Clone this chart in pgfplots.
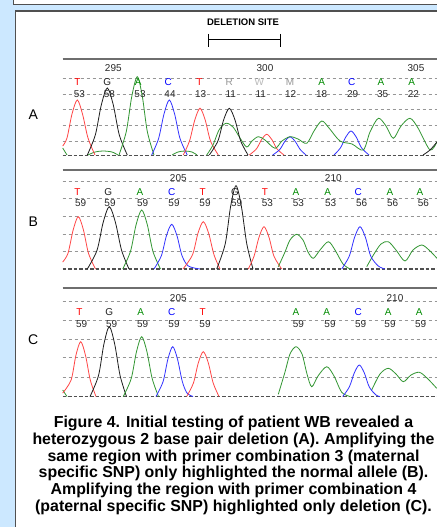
\documentclass[border=0pt]{standalone}
\usepackage{pgfplots}
\pgfplotsset{compat=1.18}
\usepackage{fontspec}
\setmainfont{Liberation Sans}
\definecolor{bgblue}{RGB}{204,232,255}
\definecolor{frame}{RGB}{80,80,80}
\definecolor{gridc}{RGB}{150,150,150}
\definecolor{basec}{RGB}{80,80,80}
\definecolor{topc}{RGB}{110,110,110}
\definecolor{tred}{RGB}{255,70,70}
\definecolor{tblk}{RGB}{30,30,30}
\definecolor{tgrn}{RGB}{50,150,50}
\definecolor{tblu}{RGB}{50,50,255}
\definecolor{lred}{RGB}{255,0,0}
\definecolor{lgrn}{RGB}{0,140,0}
\definecolor{lblu}{RGB}{0,0,255}
\definecolor{lgry}{RGB}{150,150,150}
\definecolor{lgry2}{RGB}{185,185,185}
\definecolor{numc}{RGB}{40,40,40}
\begin{document}
\begin{tikzpicture}
\begin{axis}[name=ax, at={(0,0)}, anchor=south west, scale only axis,
  width=437bp, height=527bp, xmin=0, xmax=437, ymin=0, ymax=527,
  y dir=reverse, hide axis, clip=false,
  trace/.style={line width=0.8bp, smooth, tension=0.5, mark=none},
  grid line/.style={gridc, line width=0.7bp, dash pattern=on 3.5bp off 2.5bp, mark=none},
  base line/.style={basec, line width=1.5bp, dash pattern=on 3.5bp off 2bp, mark=none},
  top line/.style={topc, line width=1.8bp, mark=none},
  every node/.append style={font=\fontsize{10.8bp}{10.8bp}\selectfont, inner sep=0pt}]

% background and frame
\fill[bgblue] (0,0) rectangle (437,527);
\fill[white] (13.3,0) rectangle (437,4.3);
\draw[frame, line width=1bp] (13.3,0) -- (13.3,4.3) -- (437,4.3);
\fill[white] (15.3,11) rectangle (437,527);
\draw[frame, line width=1.3bp] (15.3,527) -- (15.3,11) -- (437,11);

% deletion site
\node[font=\bfseries\fontsize{9.5bp}{9.5bp}\selectfont] at (243,22) {DELETION SITE};
\draw[black, line width=1bp] (208,40) -- (280,40);
\draw[black, line width=1bp] (208,34) -- (208,47);
\draw[black, line width=1bp] (280,34) -- (280,47);

% ---------- Panel A ----------
\addplot[top line] coordinates {(62.7,59) (437,59)};
\addplot[grid line] coordinates {(62.7,78.3) (437,78.3)};
\addplot[grid line] coordinates {(62.7,94.3) (437,94.3)};
\addplot[grid line] coordinates {(62.7,109.5) (437,109.5)};
\addplot[grid line] coordinates {(62.7,125.7) (437,125.7)};
\addplot[grid line] coordinates {(62.7,141) (437,141)};
\addplot[base line] coordinates {(62.7,155.7) (437,155.7)};

\addplot[trace, tgrn] coordinates {(62.7,148) (67,155)};
\addplot[trace, tgrn] coordinates {(88,155) (95,152) (103,151) (112,152) (118,155)};
\addplot[trace, tgrn] coordinates {(172,155) (178,152) (185,151) (192,152) (197,155)};
\addplot[trace, tred] coordinates {(62.7,146) (67,138) (72,114) (77.3,100) (82.5,114) (88,138) (95,155)};
\addplot[trace, tblk] coordinates {(87.3,155) (95.3,135) (101.3,105) (107.3,88) (113.3,105) (119.3,135) (127.3,155)};
\addplot[trace, tgrn] coordinates {(119,155) (126.3,131.5) (131.8,96.3) (137.3,76.7) (142.3,96.3) (147.3,131.5) (154,155)};
\addplot[trace, tblu] coordinates {(151.7,155) (158.6,138.5) (164,114) (169.3,100) (174.6,114) (180,138.5) (187.3,155)};
\addplot[trace, tred] coordinates {(183.3,155) (189.5,141) (194.8,120) (200,108.3) (205.2,120) (210.5,141) (218.3,155)};
\addplot[trace, tred] coordinates {(249.3,155) (256.5,148.8) (261.6,139.5) (266.7,134.3) (271.8,139.5) (276.9,148.8) (284,155)};
\addplot[trace, tblu] coordinates {(272.7,155) (279.8,149.5) (284.9,141.3) (290,136.7) (295.1,141.3) (300.2,149.5) (306,155)};
\addplot[trace, tblu] coordinates {(334,155) (340.5,147.8) (345.8,137) (351,131) (356.2,137) (361.5,147.8) (369,155)};
\addplot[trace, tgrn] coordinates {(206.7,155) (213,145) (219,130) (226,123.3) (233,127) (240,138) (246.7,147) (252,141) (258.3,136.7) (265,140) (275,148.3) (282,141) (290,136.7) (298,139) (306.7,143.3) (314,131) (321.7,121) (329,128) (340,141) (352,144) (363.3,150) (370,132) (378.3,118.3) (386,126) (393.3,138.3) (401,126) (410,118.3) (418,128) (430,150) (437,141.7)};
\addplot[trace, tblk] coordinates {(209.3,155) (217.9,141) (223.6,120) (229.3,108.3) (235,120) (240.7,141) (248,155)};
\addplot[trace, tblk] coordinates {(423,155) (430,150) (437,142)};

\node[numc] at (113.3,67.7) {295};
\node[numc] at (265,67.7) {300};
\node[numc] at (416,67.7) {305};
\node[lred] at (77.3,81.7) {T};
\node[tblk] at (107.3,81.7) {G};
\node[lgrn] at (138.3,81.7) {A};
\node[lblu] at (168.3,81.7) {C};
\node[lred] at (199.3,81.7) {T};
\node[lgry] at (229.3,81.7) {R};
\node[lgry2] at (259.3,81.7) {W};
\node[lgry] at (290,81.7) {M};
\node[lgrn] at (321.7,81.7) {A};
\node[lblu] at (351.7,81.7) {C};
\node[lgrn] at (381,81.7) {A};
\node[lgrn] at (411.7,81.7) {A};
\node[numc] at (79.3,94.5) {53};
\node[numc] at (109.3,94.5) {58};
\node[numc] at (140,94.5) {53};
\node[numc] at (170,94.5) {44};
\node[numc] at (200.7,94.5) {13};
\node[numc] at (230.7,94.5) {11};
\node[numc] at (260.7,94.5) {11};
\node[numc] at (290.7,94.5) {12};
\node[numc] at (321.7,94.5) {18};
\node[numc] at (352.7,94.5) {29};
\node[numc] at (382.7,94.5) {35};
\node[numc] at (413.3,94.5) {22};
\node[font=\fontsize{14bp}{14bp}\selectfont] at (33.3,115) {A};

% ---------- Panel B ----------
\addplot[top line] coordinates {(62.7,169.7) (437,169.7)};
\addplot[grid line] coordinates {(62.7,181) (437,181)};
\addplot[grid line] coordinates {(62.7,198.3) (437,198.3)};
\addplot[grid line] coordinates {(62.7,216.7) (437,216.7)};
\addplot[grid line] coordinates {(62.7,234.3) (437,234.3)};
\addplot[grid line] coordinates {(62.7,251.7) (437,251.7)};
\addplot[base line] coordinates {(62.7,269) (437,269)};

\addplot[trace, tred] coordinates {(62.7,262) (68,253.3) (73.2,229.8) (78.3,216.7) (83.4,229.8) (88.5,253.3) (95.5,269)};
\addplot[trace, tblk] coordinates {(87.3,269) (97,250.3) (103.2,222.3) (109.3,206.7) (115.4,222.3) (121.6,250.3) (129,269)};
\addplot[trace, tgrn] coordinates {(122.7,269) (130.5,251.3) (136.1,224.7) (141.7,210) (147.3,224.7) (152.9,251.3) (160.5,269)};
\addplot[trace, tblu] coordinates {(154,269) (161.4,255.6) (166.5,235.5) (171.7,224.3) (176.9,235.5) (182,255.6) (188.3,266) (200,269)};
\addplot[trace, tred] coordinates {(183,269) (192.5,254.8) (197.9,233.5) (203.3,221.7) (208.7,233.5) (214,254.8) (220,269)};
\addplot[trace, tblk] coordinates {(216.7,269) (225.2,244) (230.6,206.5) (236,185.7) (241.4,206.5) (246.8,244) (253,269)};
\addplot[trace, tred] coordinates {(248.3,269) (254,256.3) (259,237.3) (264,226.7) (269,237.3) (274,256.3) (281.7,269)};
\addplot[trace, tgrn] coordinates {(278.3,266.7) (285,252) (290,240) (296.7,234.3) (303,240) (308,252) (313.3,258.3) (320,250) (328.3,241.7) (335,250) (343,264) (350,269)};
\addplot[trace, tgrn] coordinates {(366.7,266.7) (374,254) (381,244) (388.3,241.7) (396,250) (405,261) (413,250) (421.7,245) (429,250) (437,258.3)};
\addplot[trace, tblu] coordinates {(341.7,269) (349.2,256.3) (354.6,237.3) (360,226.7) (365.4,237.3) (370.8,256.3) (378.3,266) (385,269)};

\node[numc] at (178.3,178) {205};
\node[numc] at (333.3,178) {210};
\node[lred] at (77.3,191.7) {T};
\node[tblk] at (108.3,191.7) {G};
\node[lgrn] at (140,191.7) {A};
\node[lblu] at (171.7,191.7) {C};
\node[lred] at (202.7,191.7) {T};
\node[tblk] at (235,191.7) {G};
\node[lred] at (265,191.7) {T};
\node[lgrn] at (296,191.7) {A};
\node[lgrn] at (327.7,191.7) {A};
\node[lblu] at (358.3,191.7) {C};
\node[lgrn] at (390,191.7) {A};
\node[lgrn] at (420,191.7) {A};
\node[numc] at (80.7,203) {59};
\node[numc] at (110,203) {59};
\node[numc] at (142.7,203) {59};
\node[numc] at (174,203) {59};
\node[numc] at (205,203) {59};
\node[numc] at (236.7,203) {59};
\node[numc] at (267.3,203) {53};
\node[numc] at (298.3,203) {53};
\node[numc] at (330.7,203) {53};
\node[numc] at (361.7,203) {56};
\node[numc] at (392.7,203) {56};
\node[numc] at (423.3,203) {56};
\node[font=\fontsize{14bp}{14bp}\selectfont] at (33.3,222) {B};

% ---------- Panel C ----------
\addplot[top line] coordinates {(62.7,287.7) (437,287.7)};
\addplot[grid line] coordinates {(62.7,301) (437,301)};
\addplot[grid line] coordinates {(62.7,320) (437,320)};
\addplot[grid line] coordinates {(62.7,339.3) (437,339.3)};
\addplot[grid line] coordinates {(62.7,357.7) (437,357.7)};
\addplot[grid line] coordinates {(62.7,377.7) (437,377.7)};
\addplot[base line] coordinates {(62.7,396.7) (437,396.7)};

\addplot[trace, tgrn] coordinates {(62.7,390) (67,396.5)};
\addplot[trace, tred] coordinates {(62.7,393) (71.1,380.1) (75.9,355.4) (80.7,341.7) (85.5,355.4) (90.3,380.1) (96,396.5)};
\addplot[trace, tblk] coordinates {(90,396.5) (98.5,375.6) (103.9,344.1) (109.3,326.7) (114.7,344.1) (120.1,375.6) (126.5,396.5)};
\addplot[trace, tgrn] coordinates {(123.3,396.5) (131.2,378.6) (136.5,351.6) (141.7,336.7) (146.9,351.6) (152.2,378.6) (158.5,396.5)};
\addplot[trace, tblu] coordinates {(156,396.5) (163.1,381.5) (167.9,359.1) (172.7,346.7) (177.5,359.1) (182.3,381.5) (187,393) (193,396.5)};
\addplot[trace, tred] coordinates {(186.7,396.5) (193.4,383.1) (198.3,362.9) (203.3,351.7) (208.3,362.9) (213.2,383.1) (219,396.5)};
\addplot[trace, tgrn] coordinates {(278.3,394.3) (285,372) (290,354) (296,346.7) (302,354) (307,374) (311.7,386.7) (318,376) (326.7,366.7) (334,376) (341.7,392.3) (350,396.5)};
\addplot[trace, tgrn] coordinates {(371.7,390) (380,374) (388.3,368.3) (396,374) (403.3,381.7) (411,375) (419.3,372.3) (427,378) (436.7,388.3)};
\addplot[trace, tblu] coordinates {(342.7,396.5) (349.3,387) (354.3,372.9) (359.3,365) (364.3,372.9) (369.3,387) (376,395) (380,396.5)};

\node[numc] at (178.3,297.7) {205};
\node[numc] at (395,297.7) {210};
\node[lred] at (79.3,311.7) {T};
\node[tblk] at (109.3,311.7) {G};
\node[lgrn] at (140.7,311.7) {A};
\node[lblu] at (171.7,311.7) {C};
\node[lred] at (202.7,311.7) {T};
\node[lgrn] at (296,311.7) {A};
\node[lgrn] at (326.7,311.7) {A};
\node[lblu] at (358.3,311.7) {C};
\node[lgrn] at (388.3,311.7) {A};
\node[lgrn] at (419.3,311.7) {A};
\node[numc] at (81.7,324.3) {59};
\node[numc] at (111.7,324.3) {59};
\node[numc] at (142.7,324.3) {59};
\node[numc] at (174,324.3) {59};
\node[numc] at (205,324.3) {59};
\node[numc] at (298.3,324.3) {59};
\node[numc] at (330,324.3) {59};
\node[numc] at (360.7,324.3) {59};
\node[numc] at (390,324.3) {59};
\node[numc] at (420.7,324.3) {59};
\node[font=\fontsize{14bp}{14bp}\selectfont] at (33.3,340) {C};

% ---------- Caption ----------
\begin{scope}[every node/.style={font=\bfseries\fontsize{15.9bp}{16.7bp}\selectfont, inner sep=0pt, anchor=base}]
\node at (233.5,427.7) {Figure 4. Initial testing of patient WB revealed a};
\node at (233.5,444.3) {heterozygous 2 base pair deletion (A). Amplifying the};
\node at (233.5,461) {same region with primer combination 3 (maternal};
\node at (233.5,477.7) {specific SNP) only highlighted the normal allele (B).};
\node at (233.5,494.3) {Amplifying the region with primer combination 4};
\node at (233.5,511) {(paternal specific SNP) highlighted only deletion (C).};
\end{scope}
\end{axis}
\pgfresetboundingbox
\path[use as bounding box] (ax.south west) rectangle (ax.north east);
\end{tikzpicture}
\end{document}
